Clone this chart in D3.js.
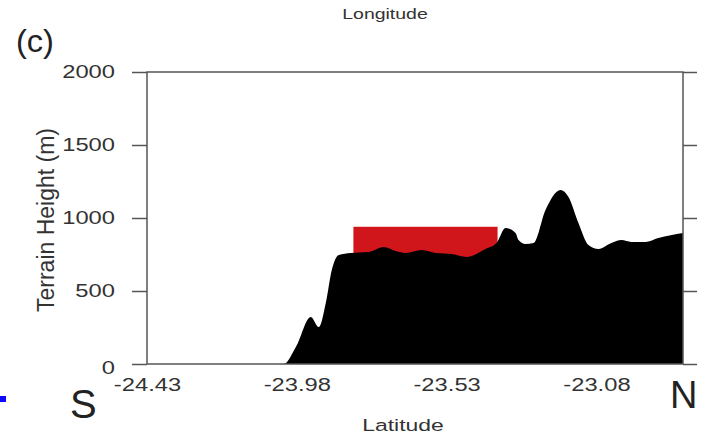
<!DOCTYPE html>
<html>
<head>
<meta charset="utf-8">
<script src="https://cdn.jsdelivr.net/npm/d3@7"></script>
<style>
  html, body { margin: 0; padding: 0; background: #fff; }
  svg { display: block; font-family: "Liberation Sans", Arial, Helvetica, sans-serif; }
</style>
</head>
<body>
<div id="chart"></div>
<script>
// terrain profile along the cross-section (latitude, metres)
const lats = [-24.43, -24.019, -23.983, -23.938, -23.914, -23.893, -23.875, -23.854, -23.818,
  -23.764, -23.719, -23.683, -23.653, -23.605, -23.563, -23.515, -23.470, -23.413, -23.380,
  -23.353, -23.323, -23.314, -23.293, -23.269, -23.233, -23.188, -23.164, -23.134, -23.104,
  -23.074, -23.035, -23.005, -22.975, -22.933, -22.894, -22.82];
const heights = [0, 0, 116, 322, 253, 418, 644, 747, 760,
  767, 801, 774, 760, 781, 760, 753, 733, 788, 829,
  931, 897, 849, 822, 829, 1055, 1192, 1144, 966, 815,
  788, 829, 849, 836, 836, 863, 897];

// highlighted box (red)
const boxLat = [-23.81, -23.377];
const boxHeight = [700, 940];

const xTicks = [-24.43, -23.98, -23.53, -23.08];
const yTicks = [0, 500, 1000, 1500, 2000];
const xDomain = [-24.43, -22.82];
const yDomain = [0, 2000];

const W = 704, H = 439;
const m = { left: 147, right: 21, top: 72, bottom: 75 };
const frameColor = '#555';
const textColor = '#333';
const sx = 1.32; // horizontal stretch of the source image

const svg = d3.select('#chart').append('svg').attr('width', W).attr('height', H);

const x = d3.scaleLinear().domain(xDomain).range([m.left, W - m.right]);
const y = d3.scaleLinear().domain(yDomain).range([H - m.bottom, m.top]);

const data = lats.map((d, i) => ({ lat: d, h: heights[i] }));

// red box behind the terrain
svg.append('rect')
  .attr('x', x(boxLat[0])).attr('y', y(boxHeight[1]))
  .attr('width', x(boxLat[1]) - x(boxLat[0]))
  .attr('height', y(boxHeight[0]) - y(boxHeight[1]))
  .attr('fill', '#d0161b');

const area = d3.area()
  .x((d) => x(d.lat))
  .y0(y(0))
  .y1((d) => y(d.h))
  .curve(d3.curveMonotoneX);

svg.append('path').datum(data).attr('d', area).attr('fill', '#000');

// frame
svg.append('rect')
  .attr('x', x(xDomain[0])).attr('y', y(yDomain[1]))
  .attr('width', x(xDomain[1]) - x(xDomain[0]))
  .attr('height', y(yDomain[0]) - y(yDomain[1]))
  .attr('fill', 'none').attr('stroke', frameColor).attr('stroke-width', 1.5);

// left axis
const gl = svg.append('g').attr('transform', `translate(${x(xDomain[0])},0)`)
  .call(d3.axisLeft(y).tickValues(yTicks).tickSize(15).tickFormat(d3.format('d')));
gl.select('.domain').remove();
gl.selectAll('line').attr('stroke', frameColor).attr('stroke-width', 1.5);
gl.selectAll('text').attr('x', 0).attr('font-size', 18).attr('fill', textColor)
  .attr('transform', `translate(-32,0) scale(${sx},1)`);
gl.selectAll('.tick').filter((d) => d === 0).select('text').attr('dy', '0.5em');

// right axis (ticks only)
const gr = svg.append('g').attr('transform', `translate(${x(xDomain[1])},0)`)
  .call(d3.axisRight(y).tickValues(yTicks).tickSize(14).tickFormat(''));
gr.select('.domain').remove();
gr.selectAll('line').attr('stroke', frameColor).attr('stroke-width', 1.5);

// bottom axis labels (plain hyphen minus, as in the source)
const gb = svg.append('g').attr('transform', `translate(0,${y(0)})`)
  .call(d3.axisBottom(x).tickValues(xTicks).tickSize(0).tickPadding(14).tickFormat((d) => d.toFixed(2)));
gb.select('.domain').remove();
gb.selectAll('text').attr('font-size', 18).attr('fill', textColor)
  .attr('x', 0).attr('transform', `scale(${sx},1)`);

// titles
function label(txt, px, py, size, color, stretch, anchor) {
  return svg.append('text')
    .attr('transform', `translate(${px},${py}) scale(${stretch},1)`)
    .attr('text-anchor', anchor || 'middle')
    .attr('font-size', size).attr('fill', color)
    .text(txt);
}
label('Longitude', 385, 19, 15, textColor, 1.3);
label('Latitude', 403, 431, 17, textColor, 1.35);
label('(c)', 16, 52, 31, '#222', 1.05, 'start');
label('S', 70, 418, 40, '#222', 1, 'start');
label('N', 670, 408, 38, '#222', 1, 'start');

svg.append('text')
  .attr('transform', `translate(54,${(y(0) + y(2000)) / 2 + 2}) rotate(-90)`)
  .attr('text-anchor', 'middle').attr('font-size', 23).attr('fill', textColor)
  .text('Terrain Height (m)');

// small blue marker at the left edge
svg.append('rect').attr('x', 0).attr('y', 396).attr('width', 6).attr('height', 6).attr('fill', '#0a0aff');
</script>
</body>
</html>
